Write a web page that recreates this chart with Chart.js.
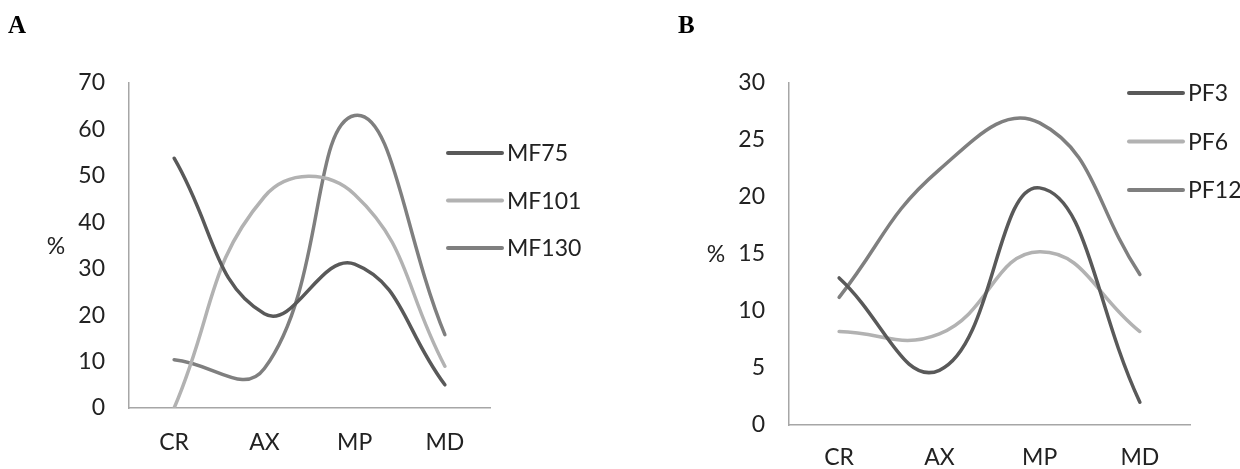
<!DOCTYPE html>
<html>
<head>
<meta charset="utf-8">
<script src="https://cdn.jsdelivr.net/npm/chart.js@4.4.1/dist/chart.umd.min.js"></script>
<style>
  html, body { margin: 0; padding: 0; background: #fff; }
  #wrap { position: relative; width: 1240px; height: 469px; overflow: hidden; }
  .panel { position: absolute; top: 0; width: 620px; height: 469px; }
  .tag { position: absolute; top: 11px; font: bold 25px "Liberation Serif", serif; color: #000; }
</style>
</head>
<body>
<div id="wrap">
  <div class="panel" style="left:0"><canvas id="chart-a" width="620" height="469"></canvas></div>
  <div class="panel" style="left:620px"><canvas id="chart-b" width="620" height="469"></canvas></div>
  <div class="tag" style="left:8px">A</div>
  <div class="tag" style="left:678px">B</div>
</div>
<script>
// categories on the x axis (both panels)
const categories = ['CR', 'AX', 'MP', 'MD'];

// panel A series (%)
const mf75 = [53.8, 20.3, 31, 5];
const mf101 = [0, 45.5, 46, 9];
const mf130 = [10.4, 8.5, 63, 15.8];

// panel B series (%)
const pf3 = [12.9, 4.8, 20.8, 2];
const pf6 = [8.2, 8, 15.2, 8.2];
const pf12 = [11.2, 22.4, 26.5, 13.2];

// y tick labels
const yTicksA = [0, 10, 20, 30, 40, 50, 60, 70];
const yTicksB = [0, 5, 10, 15, 20, 25, 30];

const DARK = '#595959';
const LIGHT = '#b2b2b2';
const MID = '#7f7f7f';
const AXIS = '#a6a6a6';
const FONT = { family: 'Lato', size: 23 };

// legend + "%" label drawn by hand, the Excel way (lines with text at the right)
const sideLegend = {
    id: 'sideLegend',
    afterDraw(chart, args, opts) {
        const ctx = chart.ctx;
        ctx.save();
        ctx.font = `${FONT.size}px ${FONT.family}`;
        ctx.fillStyle = '#222';
        ctx.textBaseline = 'middle';

        // "%" beside the y axis
        ctx.textAlign = 'center';
        ctx.fillText('%', opts.pctX, opts.pctY);

        ctx.textAlign = 'left';
        chart.data.datasets.forEach((ds, i) => {
            const y = opts.top + i * opts.gap;
            ctx.strokeStyle = ds.borderColor;
            ctx.lineWidth = 4;
            ctx.lineCap = 'round';
            ctx.beginPath();
            ctx.moveTo(opts.x, y);
            ctx.lineTo(opts.x + 54, y);
            ctx.stroke();
            ctx.fillText(ds.label, opts.x + 59, y + 1);
        });
        ctx.restore();
    }
};

function makeSeries(label, data, color) {
    return {
        label: label,
        data: data,
        borderColor: color,
        backgroundColor: color,
        borderWidth: 3.5,
        borderCapStyle: 'round',
        pointRadius: 0,
        pointHoverRadius: 0,
        tension: 0.45,
        fill: false
    };
}

function drawPanel(canvasId, datasets, yTicks, cfg) {
    const ctx = document.getElementById(canvasId);
    return new Chart(ctx, {
        type: 'line',
        data: { labels: categories, datasets: datasets },
        options: {
            responsive: false,
            animation: false,
            events: [],
            layout: { padding: { top: cfg.top, right: cfg.right, left: 0, bottom: 0 } },
            plugins: {
                legend: { display: false },
                tooltip: { enabled: false },
                sideLegend: cfg.legend
            },
            scales: {
                x: {
                    offset: true,
                    grid: { display: false, drawTicks: false },
                    border: { display: true, color: AXIS, width: 1.5 },
                    ticks: { font: FONT, color: '#222', padding: cfg.xPad, maxRotation: 0 },
                    afterFit: (scale) => { scale.height = cfg.xHeight; }
                },
                y: {
                    min: yTicks[0],
                    max: yTicks[yTicks.length - 1],
                    grid: { display: false, drawTicks: false },
                    border: { display: true, color: AXIS, width: 1.5 },
                    ticks: { font: FONT, color: '#222', padding: 24 },
                    afterBuildTicks: (scale) => { scale.ticks = yTicks.map(v => ({ value: v })); },
                    afterFit: (scale) => { scale.width = cfg.yWidth; }
                }
            }
        },
        plugins: [sideLegend]
    });
}

drawPanel('chart-a', [
    makeSeries('MF75', mf75, DARK),
    makeSeries('MF101', mf101, LIGHT),
    makeSeries('MF130', mf130, MID)
], yTicksA, {
    top: 83, right: 130, yWidth: 129, xHeight: 61, xPad: 21,
    legend: { x: 448, top: 153, gap: 47.5, pctX: 56, pctY: 247 }
});

drawPanel('chart-b', [
    makeSeries('PF3', pf3, DARK),
    makeSeries('PF6', pf6, LIGHT),
    makeSeries('PF12', pf12, MID)
], yTicksB, {
    top: 83, right: 50, yWidth: 169, xHeight: 44, xPad: 19,
    legend: { x: 509, top: 93, gap: 48.5, pctX: 96, pctY: 255 }
});
</script>
</body>
</html>
